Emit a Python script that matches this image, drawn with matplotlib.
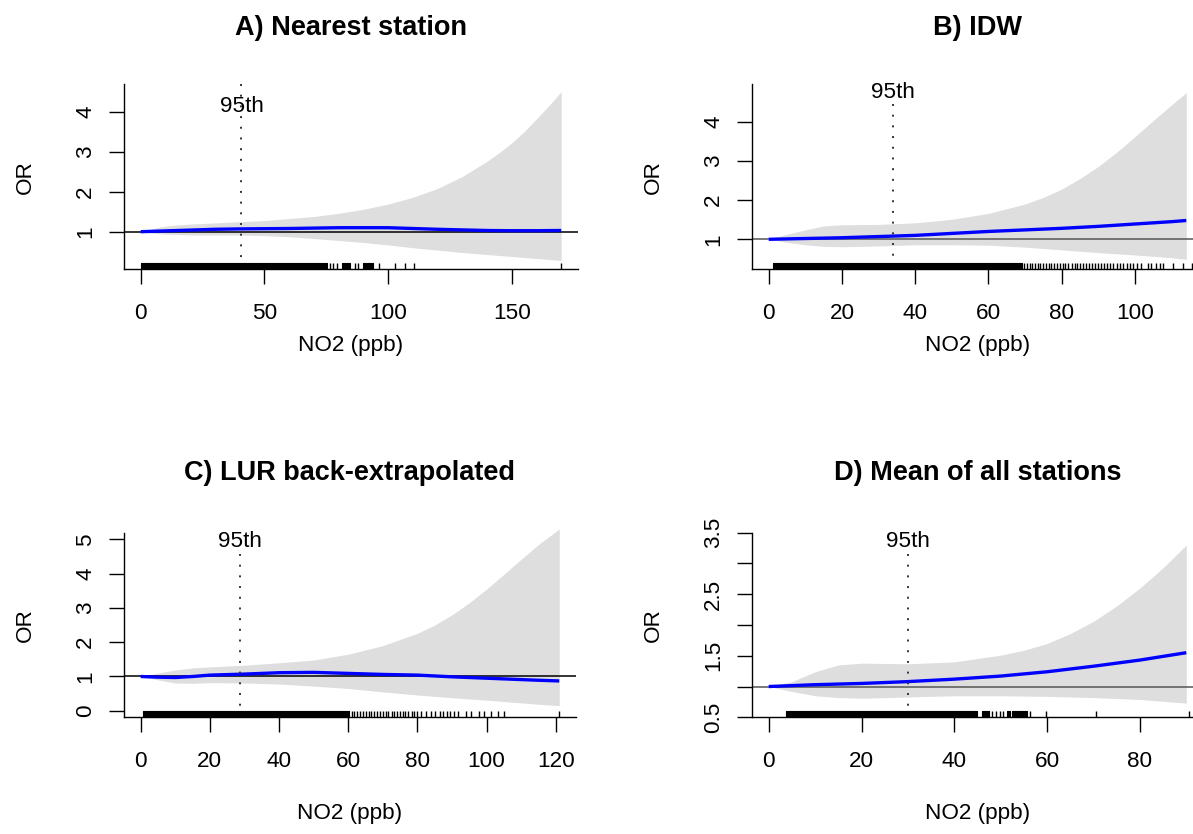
import matplotlib
matplotlib.use("Agg")
import matplotlib.pyplot as plt

plt.rcParams['font.family'] = ['Liberation Sans', 'DejaVu Sans']

# ---------------- data ----------------
titles = ["A) Nearest station", "B) IDW", "C) LUR back-extrapolated", "D) Mean of all stations"]
xlabel = "NO2 (ppb)"
ylabel = "OR"
pct_label = "95th"

a_x = [0, 5, 10, 15, 20, 30, 40, 50, 60, 70, 80, 90, 100, 110, 120, 130, 140, 145, 150, 155, 160, 165, 170]
a_fit = [1.00, 1.01, 1.02, 1.03, 1.04, 1.06, 1.07, 1.075, 1.08, 1.09, 1.10, 1.10, 1.10, 1.08, 1.06, 1.045,
         1.03, 1.027, 1.025, 1.025, 1.025, 1.028, 1.03]
a_hi = [1.00, 1.08, 1.14, 1.17, 1.19, 1.22, 1.25, 1.28, 1.33, 1.38, 1.46, 1.56, 1.69, 1.86, 2.08, 2.38,
        2.76, 2.98, 3.22, 3.50, 3.82, 4.15, 4.50]
a_lo = [1.00, 0.96, 0.94, 0.93, 0.92, 0.92, 0.92, 0.90, 0.875, 0.83, 0.78, 0.73, 0.67, 0.60, 0.54, 0.48,
        0.43, 0.405, 0.38, 0.355, 0.33, 0.305, 0.28]

b_x = [0, 5, 10, 15, 20, 30, 40, 50, 60, 70, 75, 80, 85, 90, 95, 100, 105, 110, 114]
b_fit = [1.00, 1.01, 1.02, 1.03, 1.04, 1.07, 1.10, 1.15, 1.20, 1.24, 1.26, 1.28, 1.305, 1.33, 1.36, 1.39,
         1.42, 1.45, 1.48]
b_hi = [1.00, 1.13, 1.24, 1.34, 1.37, 1.38, 1.42, 1.51, 1.66, 1.90, 2.07, 2.28, 2.55, 2.86, 3.22, 3.62,
        4.03, 4.43, 4.74]
b_lo = [1.00, 0.92, 0.86, 0.82, 0.81, 0.83, 0.86, 0.86, 0.85, 0.80, 0.765, 0.73, 0.695, 0.66, 0.63,
        0.60, 0.565, 0.53, 0.49]

c_x = [0, 5, 10, 15, 20, 30, 40, 50, 60, 70, 80, 85, 90, 95, 100, 105, 110, 115, 121]
c_fit = [1.00, 0.98, 0.97, 1.00, 1.04, 1.07, 1.11, 1.12, 1.09, 1.06, 1.04, 1.015, 0.99, 0.97, 0.95,
         0.93, 0.91, 0.89, 0.87]
c_hi = [1.00, 1.10, 1.19, 1.25, 1.28, 1.33, 1.40, 1.48, 1.65, 1.90, 2.26, 2.50, 2.80, 3.15, 3.55,
        3.98, 4.42, 4.85, 5.30]
c_lo = [1.00, 0.90, 0.81, 0.80, 0.82, 0.81, 0.78, 0.72, 0.65, 0.55, 0.46, 0.42, 0.38, 0.345, 0.31,
        0.27, 0.23, 0.19, 0.15]

d_x = [0, 5, 10, 15, 20, 30, 40, 50, 55, 60, 65, 70, 75, 80, 85, 90]
d_fit = [1.00, 1.015, 1.03, 1.04, 1.05, 1.08, 1.12, 1.17, 1.205, 1.24, 1.285, 1.33, 1.38, 1.43, 1.49, 1.55]
d_hi = [1.00, 1.08, 1.24, 1.35, 1.38, 1.37, 1.40, 1.51, 1.59, 1.70, 1.86, 2.06, 2.31, 2.60, 2.93, 3.30]
d_lo = [1.00, 0.92, 0.85, 0.82, 0.81, 0.83, 0.85, 0.85, 0.845, 0.84, 0.83, 0.82, 0.805, 0.79, 0.76, 0.73]

# 95th percentile of exposure
p95 = [40.7, 33.85, 28.8, 30.1]

# rug: dense (solid) stretches and individual ticks
a_rug_dense = [(0.0, 75.2), (81.5, 84.5), (90.0, 94.0)]
a_rug_ticks = [76.5, 77.9, 79.5, 86.5, 87.8, 96.3, 102.8, 106.8, 110.5, 170.0]
b_rug_dense = [(1.3, 69.1)]
b_rug_ticks = [69.8, 70.5, 71.3, 72.0, 72.6, 73.4, 74.1, 74.9, 75.6, 76.4, 77.0, 77.9, 78.6, 79.5, 80.3,
               81.0, 81.8, 82.7, 83.5, 84.1, 85.0, 85.9, 86.6, 87.4, 88.2, 89.0, 89.9, 90.8, 91.5, 92.4,
               93.3, 94.0, 95.1, 96.0, 96.8, 97.7, 98.6, 99.5, 100.5, 101.5, 103.6, 104.5, 105.7, 106.8,
               107.7, 110.5, 113.0, 115.5]
c_rug_dense = [(0.6, 60.2)]
c_rug_ticks = [61.0, 61.8, 62.5, 63.4, 64.2, 65.0, 65.9, 66.7, 67.4, 68.3, 69.1, 70.0, 70.8, 71.6, 72.5,
               73.3, 74.0, 74.9, 75.8, 76.5, 77.4, 78.3, 79.0, 80.0, 81.0, 82.5, 84.0, 85.0, 86.5, 87.5,
               88.5, 89.5, 90.5, 91.6, 94.0, 95.5, 97.9, 99.3, 101.3, 103.2, 105.1, 121.0]
d_rug_dense = [(3.73, 44.9), (46.0, 47.5), (51.3, 51.9), (52.4, 55.6)]
d_rug_ticks = [48.1, 49.0, 49.9, 50.6, 56.3, 59.8, 70.5, 90.6]

# ---------------- layout / style ----------------
W, H = 1193, 834
fig = plt.figure(figsize=(W / 100, H / 100), dpi=100)

def px_rect(x0, x1, y0, y1):
    return [x0 / W, 1 - y1 / H, (x1 - x0) / W, (y1 - y0) / H]

FS = 16.2
TFS = 19.5
BAND = '#dedede'
BLUE = '#0000ff'

panels = [
    dict(x=a_x, fit=a_fit, hi=a_hi, lo=a_lo, rect=(124, 578, 84.3, 269.3),
         xlim=(-6.8, 176.8), ylim=(0.06, 4.685), xt=[0, 50, 100, 150], yt=[1, 2, 3, 4],
         ytl=None, hcol='black', txt_y=4.14, dot=(4.685, 0.29),
         dense=a_rug_dense, ticks=a_rug_ticks, ty=28.3, xly=346),
    dict(x=b_x, fit=b_fit, hi=b_hi, lo=b_lo, rect=(752, 1203, 84.0, 269.3),
         xlim=(-4.56, 118.56), ylim=(0.235, 4.96), xt=[0, 20, 40, 60, 80, 100], yt=[1, 2, 3, 4],
         ytl=None, hcol='#555555', txt_y=4.75, dot=(4.44, 0.46),
         dense=b_rug_dense, ticks=b_rug_ticks, ty=28.3, xly=346),
    dict(x=c_x, fit=c_fit, hi=c_hi, lo=c_lo, rect=(124, 576, 533.3, 717.3),
         xlim=(-4.84, 125.84), ylim=(-0.19, 5.175), xt=[0, 20, 40, 60, 80, 100, 120],
         yt=[0, 1, 2, 3, 4, 5], ytl=None, hcol='black', txt_y=4.95, dot=(4.57, 0.07),
         dense=c_rug_dense, ticks=c_rug_ticks, ty=473.3, xly=814),
    dict(x=d_x, fit=d_fit, hi=d_hi, lo=d_lo, rect=(752, 1203, 532.7, 717.3),
         xlim=(-3.6, 93.6), ylim=(0.5, 3.5), xt=[0, 20, 40, 60, 80],
         yt=[0.5, 1.0, 1.5, 2.0, 2.5, 3.0, 3.5],
         ytl=['0.5', '', '1.5', '', '2.5', '', '3.5'], hcol='#555555', txt_y=3.36, dot=(3.15, 0.65),
         dense=d_rug_dense, ticks=d_rug_ticks, ty=473.3, xly=814),
]

for i, p in enumerate(panels):
    x0, x1, y0, y1 = p['rect']
    ax = fig.add_axes(px_rect(x0, x1, y0, y1))
    ax.set_xlim(*p['xlim'])
    ax.set_ylim(*p['ylim'])
    for s in ('top', 'right'):
        ax.spines[s].set_visible(False)
    for s in ('left', 'bottom'):
        ax.spines[s].set_linewidth(1.0)
        ax.spines[s].set_color('black')
    ax.set_xticks(p['xt'])
    ax.set_yticks(p['yt'])
    if p['ytl'] is not None:
        ax.set_yticklabels(p['ytl'])
    ax.tick_params(axis='both', direction='out', length=11, width=1.0, labelsize=FS, colors='black')
    ax.tick_params(axis='x', pad=13)
    ax.tick_params(axis='y', pad=9)
    for lab in ax.get_yticklabels():
        lab.set_rotation(90)
        lab.set_va('center')
    ax.patch.set_visible(False)

    ax.fill_between(p['x'], p['lo'], p['hi'], color=BAND, lw=0, zorder=1, clip_on=False)
    ax.axhline(1.0, color=p['hcol'], lw=1.1, zorder=2)
    ax.plot(p['x'], p['fit'], color=BLUE, lw=2.4, zorder=3, solid_capstyle='butt')
    ax.plot([p95[i], p95[i]], list(p['dot']), color='#333333', lw=1.4,
            linestyle=(0, (1, 4.5)), zorder=4)
    ax.text(p95[i], p['txt_y'], pct_label, ha='center', va='center', fontsize=FS, zorder=5)

    tr = ax.get_xaxis_transform()
    for (s0, s1) in p['dense']:
        ax.fill_between([s0, s1], [0, 0], [0.032, 0.032], transform=tr, color='black', lw=0.8,
                        edgecolor='black', zorder=4)
    ax.vlines(p['ticks'], 0, 0.032, transform=tr, color='black', lw=1.0, zorder=4)

    # titles & axis labels (figure pixel coords)
    cx = (x0 + x1) / 2
    fig.text(cx / W, 1 - p['ty'] / H, titles[i], ha='center', va='center',
             fontsize=TFS, fontweight='bold')
    fig.text(cx / W, 1 - p['xly'] / H, xlabel, ha='center', va='center', fontsize=FS)
    fig.text((x0 - 99) / W, 1 - ((y0 + y1) / 2) / H, ylabel, ha='center', va='center',
             fontsize=FS, rotation=90)

fig.savefig("out.png", dpi=100)
